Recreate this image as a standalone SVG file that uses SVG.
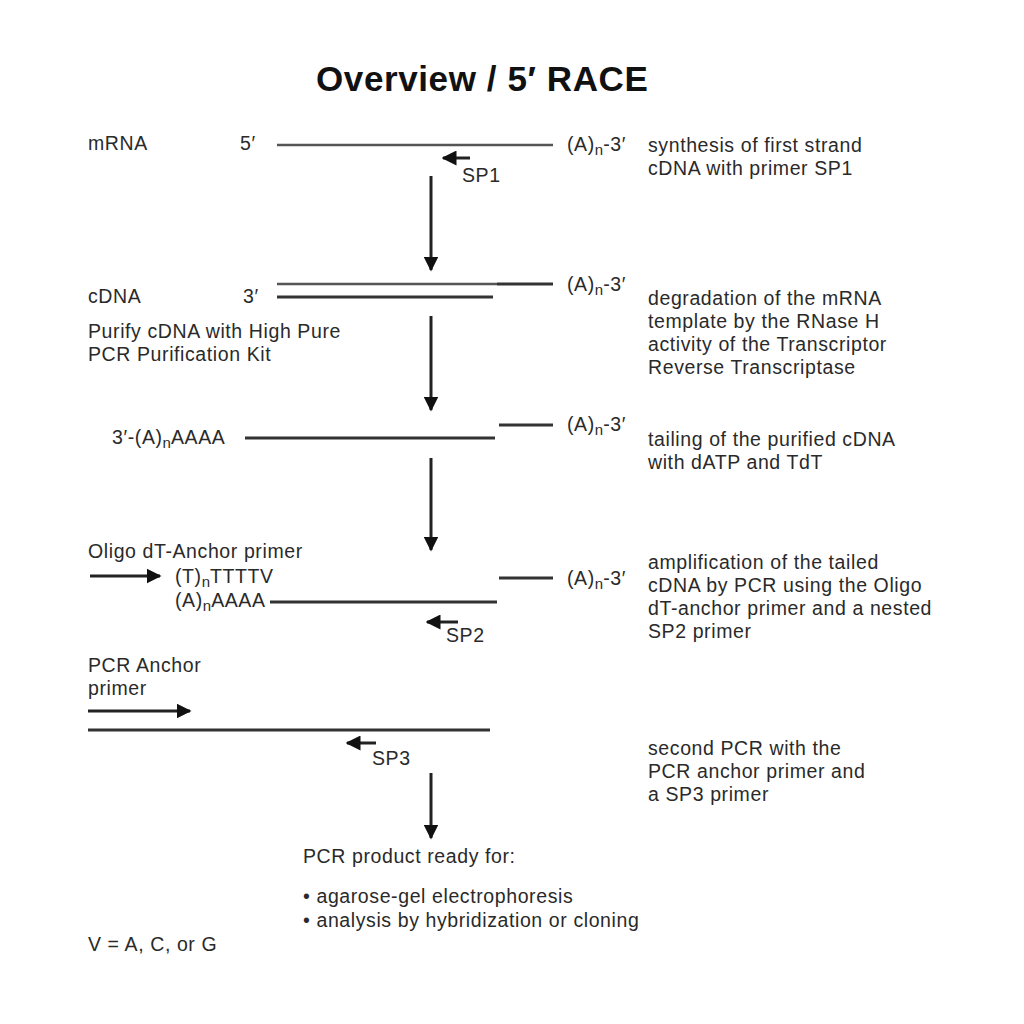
<svg xmlns="http://www.w3.org/2000/svg" width="1024" height="1024" viewBox="0 0 1024 1024">
<style>
text{font-family:"Liberation Sans",Arial,sans-serif;font-size:19.5px;letter-spacing:0.6px;fill:#2a2a2a}
.t{font-size:35px;font-weight:bold;letter-spacing:0.6px;fill:#111}
.s{font-size:15px;letter-spacing:0}
.ln{stroke:#555;stroke-width:2.5;fill:none}
.dk{stroke:#333;stroke-width:3;fill:none}
.ar{stroke:#222;stroke-width:3;fill:none}
</style>
<defs>
<marker id="ah" viewBox="0 0 10 10" refX="9" refY="5" markerWidth="5" markerHeight="5" orient="auto">
<path d="M0,0 L10,5 L0,10 z" fill="#111"/>
</marker>
</defs>
<rect width="1024" height="1024" fill="#fff"/>
<text class="t" x="316" y="91">Overview / 5′ RACE</text>

<g id="step1">
<text x="88" y="150">mRNA</text>
<text x="240" y="150">5′</text>
<text x="567" y="151">(A)<tspan class="s" dy="4">n</tspan><tspan dy="-4">-3′</tspan></text>
<text x="648" y="152">synthesis of first strand</text>
<text x="648" y="175">cDNA with primer SP1</text>
<text x="462" y="182">SP1</text>
</g>
<g id="step2">
<text x="88" y="303">cDNA</text>
<text x="243" y="303">3′</text>
<text x="567" y="291">(A)<tspan class="s" dy="4">n</tspan><tspan dy="-4">-3′</tspan></text>
<text x="88" y="338">Purify cDNA with High Pure</text>
<text x="88" y="361">PCR Purification Kit</text>
<text x="648" y="305">degradation of the mRNA</text>
<text x="648" y="328">template by the RNase H</text>
<text x="648" y="351">activity of the Transcriptor</text>
<text x="648" y="374">Reverse Transcriptase</text>
</g>
<g id="step3">
<text x="112" y="444">3′-(A)<tspan class="s" dy="4">n</tspan><tspan dy="-4">AAAA</tspan></text>
<text x="567" y="431">(A)<tspan class="s" dy="4">n</tspan><tspan dy="-4">-3′</tspan></text>
<text x="648" y="446">tailing of the purified cDNA</text>
<text x="648" y="469">with dATP and TdT</text>
</g>
<g id="step4">
<text x="88" y="558">Oligo dT-Anchor primer</text>
<text x="175" y="583">(T)<tspan class="s" dy="4">n</tspan><tspan dy="-4">TTTTV</tspan></text>
<text x="175" y="607">(A)<tspan class="s" dy="4">n</tspan><tspan dy="-4">AAAA</tspan></text>
<text x="567" y="585">(A)<tspan class="s" dy="4">n</tspan><tspan dy="-4">-3′</tspan></text>
<text x="446" y="642">SP2</text>
<text x="648" y="569">amplification of the tailed</text>
<text x="648" y="592">cDNA by PCR using the Oligo</text>
<text x="648" y="615">dT-anchor primer and a nested</text>
<text x="648" y="638">SP2 primer</text>
</g>
<g id="step5">
<text x="88" y="672">PCR Anchor</text>
<text x="88" y="695">primer</text>
<text x="372" y="765">SP3</text>
<text x="648" y="755">second PCR with the</text>
<text x="648" y="778">PCR anchor primer and</text>
<text x="648" y="801">a SP3 primer</text>
</g>
<g id="result">
<text x="303" y="863">PCR product ready for:</text>
<text x="303" y="903">• agarose-gel electrophoresis</text>
<text x="303" y="927">• analysis by hybridization or cloning</text>
</g>
<g id="legend">
<text x="88" y="951">V = A, C, or G</text>
</g>

<g id="connectors">
<line class="ln" x1="277" y1="145" x2="553" y2="145"/>
<line class="ar" x1="470" y1="158" x2="443" y2="158" marker-end="url(#ah)"/>
<line class="ar" x1="431" y1="176" x2="431" y2="270" marker-end="url(#ah)"/>
<line class="ln" x1="277" y1="284" x2="497" y2="284"/>
<line class="dk" x1="497" y1="284" x2="553" y2="284"/>
<line class="dk" x1="277" y1="297" x2="493" y2="297"/>
<line class="ar" x1="431" y1="316" x2="431" y2="410" marker-end="url(#ah)"/>
<line class="dk" x1="245" y1="438" x2="495" y2="438"/>
<line class="dk" x1="499" y1="425" x2="553" y2="425"/>
<line class="ar" x1="431" y1="458" x2="431" y2="550" marker-end="url(#ah)"/>
<line class="ar" x1="90" y1="576" x2="160" y2="576" marker-end="url(#ah)"/>
<line class="dk" x1="270" y1="602" x2="497" y2="602"/>
<line class="dk" x1="499" y1="578" x2="553" y2="578"/>
<line class="ar" x1="458" y1="622" x2="427" y2="622" marker-end="url(#ah)"/>
<line class="ar" x1="88" y1="711" x2="190" y2="711" marker-end="url(#ah)"/>
<line class="dk" x1="88" y1="730" x2="490" y2="730"/>
<line class="ar" x1="376" y1="743" x2="347" y2="743" marker-end="url(#ah)"/>
<line class="ar" x1="431" y1="773" x2="431" y2="838" marker-end="url(#ah)"/>
</g>
</svg>
